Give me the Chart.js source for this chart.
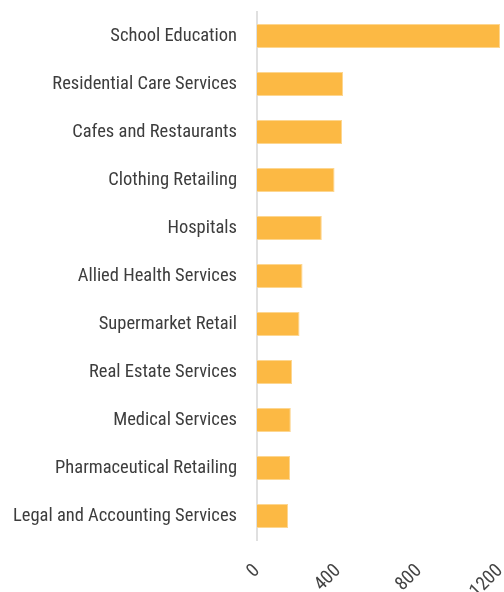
<!DOCTYPE html>
<html>
<head>
<meta charset="utf-8">
<script src="https://cdn.jsdelivr.net/npm/chart.js@4/dist/chart.umd.min.js"></script>
<style>
  html, body { margin: 0; padding: 0; background: #fff; }
  #wrap { width: 504px; height: 592px; }
</style>
</head>
<body>
<div id="wrap"><canvas id="industryChart"></canvas></div>
<script>
const categories = [
    'School Education',
    'Residential Care Services',
    'Cafes and Restaurants',
    'Clothing Retailing',
    'Hospitals',
    'Allied Health Services',
    'Supermarket Retail',
    'Real Estate Services',
    'Medical Services',
    'Pharmaceutical Retailing',
    'Legal and Accounting Services'
];
const counts = [1200, 425, 420, 383, 320, 225, 210, 173, 167, 163, 153];
const xTicks = [0, 400, 800, 1200];

const fontFamily = '"Roboto Condensed", "Liberation Sans Narrow", sans-serif';

// drop the extra padding chart.js reserves for label overhang
function noPadding(scale) {
    scale.paddingLeft = 0;
    scale.paddingRight = 0;
    scale.paddingTop = 0;
    scale.paddingBottom = 0;
}

const data = {
    labels: categories,
    datasets: [
        {
            label: 'Count',
            data: counts,
            backgroundColor: '#fcb944',
            borderColor: '#fdd690',
            borderWidth: 1,
            barPercentage: 0.5,
            categoryPercentage: 1.0
        }
    ]
};

const config = {
    type: 'bar',
    data: data,
    options: {
        indexAxis: 'y',
        responsive: false,
        animation: false,
        layout: {
            padding: { top: 12, right: 4, left: 0, bottom: 0 }
        },
        plugins: {
            legend: { display: false },
            tooltip: { enabled: false }
        },
        scales: {
            x: {
                min: 0,
                max: 1200,
                afterBuildTicks: (scale) => {
                    scale.ticks = xTicks.map(v => ({ value: v }));
                },
                grid: { display: false, drawTicks: false },
                border: { display: false },
                ticks: {
                    color: '#444',
                    font: { family: fontFamily, size: 19 },
                    minRotation: 45,
                    maxRotation: 45,
                    padding: 20,
                    callback: (value) => String(value)
                },
                afterFit: (scale) => { scale.height = 52; noPadding(scale); }
            },
            y: {
                grid: { display: false, drawTicks: false },
                border: { display: true, color: '#e0e0e0', width: 2 },
                ticks: {
                    color: '#3d3d3d',
                    font: { family: fontFamily, size: 18.5 },
                    padding: 20
                },
                afterFit: (scale) => { scale.width = 257; noPadding(scale); }
            }
        }
    }
};

const canvas = document.getElementById('industryChart');
canvas.width = 504;
canvas.height = 592;
const myChart = new Chart(canvas, config);
</script>
</body>
</html>
